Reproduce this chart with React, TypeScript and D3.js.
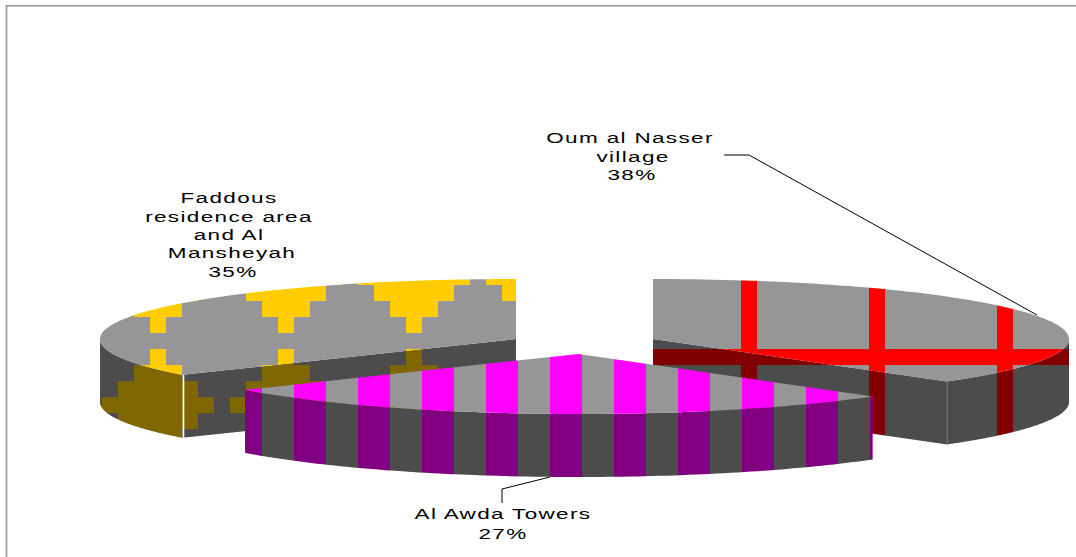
import React from "react";
import * as d3 from "d3";

// Share of each housing area, in drawing order around the pie
const areas = ["Oum al Nasser village", "Al Awda Towers", "Faddous residence area and Al Mansheyah"];
const shares = [37.5, 27.3, 35.2];
const labelLines = [
  ["Oum al Nasser", "village"],
  ["Al Awda Towers"],
  ["Faddous", "residence area", "and Al", "Mansheyah"],
];

const W = 1076;
const H = 557;
const RX = 416;
const RY = 60;
const DEPTH = 63;
const GREY_TOP = "#969696";
const GREY_SIDE = "#4c4c4c";
const FONT = "'Liberation Sans', Arial, sans-serif";

type Point = [number, number];
type Centre = { x: number; y: number };

// Where each exploded wedge sits on the page
const centres: Centre[] = [
  { x: 653, y: 339 },
  { x: 578.5, y: 354 },
  { x: 516, y: 339 },
];

// Half-widths of the stepped diamond, one entry per 16px row of the tile
const diamondRows = [0, 16, 48, 80, 112, 80, 48, 16];

const slices = d3
  .pie<number>()
  .sort(null)
  .startAngle(0)
  .endAngle(2 * Math.PI)
  .value((d) => d)(shares);

const toPath = d3.line<Point>();
const percent = d3.format(".0%");

// Ellipse point for a clockwise angle measured from twelve o'clock
function onRim(c: Centre, angle: number, drop = 0): Point {
  return [c.x + RX * Math.sin(angle), c.y - RY * Math.cos(angle) + drop];
}

function rim(c: Centre, a0: number, a1: number, drop = 0): Point[] {
  const step = d3.scaleLinear().domain([0, 96]).range([a0, a1]);
  return d3.range(97).map((i) => onRim(c, step(i), drop));
}

function topFace(c: Centre, a0: number, a1: number): string {
  return toPath([[c.x, c.y], ...rim(c, a0, a1)]) + "Z";
}

function rimBand(c: Centre, a0: number, a1: number): string {
  return toPath([...rim(c, a0, a1), ...rim(c, a1, a0, DEPTH)]) + "Z";
}

function radialFace(c: Centre, a: number): string {
  const p = onRim(c, a);
  const q: Point = [c.x, c.y];
  return toPath([q, p, [p[0], p[1] + DEPTH], [q[0], q[1] + DEPTH]]) + "Z";
}

function Diamonds({ id, ink, paper }: { id: string; ink: string; paper: string }) {
  return (
    <pattern id={id} patternUnits="userSpaceOnUse" x={94} y={333} width={128} height={128}>
      <rect width={128} height={128} fill={paper} />
      {diamondRows.map((w, i) =>
        w > 0 ? <rect key={i} x={64 - w / 2} y={i * 16} width={w} height={16} fill={ink} shapeRendering="crispEdges" /> : null
      )}
    </pattern>
  );
}

function Plaid({ id, ink, paper }: { id: string; ink: string; paper: string }) {
  return (
    <pattern id={id} patternUnits="userSpaceOnUse" x={741} y={349} width={128} height={128}>
      <rect width={128} height={128} fill={paper} />
      <rect width={16} height={128} fill={ink} shapeRendering="crispEdges" />
      <rect width={128} height={16} fill={ink} shapeRendering="crispEdges" />
    </pattern>
  );
}

function Stripes({ id, ink, paper }: { id: string; ink: string; paper: string }) {
  return (
    <pattern id={id} patternUnits="userSpaceOnUse" x={550} y={0} width={64} height={64}>
      <rect width={64} height={64} fill={paper} />
      <rect width={32} height={64} fill={ink} shapeRendering="crispEdges" />
    </pattern>
  );
}

function Label({ lines, xs, baselines }: { lines: string[]; xs: number[]; baselines: number[] }) {
  return (
    <g fontFamily={FONT} fontSize={15} fill="#000" textAnchor="middle">
      {lines.map((t, i) => (
        <text key={i} transform={`translate(${xs[i]},${baselines[i]}) scale(1.5,1)`} letterSpacing={0.9}>
          {t}
        </text>
      ))}
    </g>
  );
}

export default function App() {
  const [red, awda, gold] = slices;
  const rightAngle = Math.PI / 2;
  const leftAngle = (3 * Math.PI) / 2;
  const goldEdge = onRim(centres[2], gold.startAngle);
  const redEdge = onRim(centres[0], red.endAngle);

  return (
    <svg
      width={W}
      height={H}
      viewBox={`0 0 ${W} ${H}`}
      style={{ position: "absolute", left: 0, top: 0, display: "block", background: "#fff" }}
    >
      <defs>
        <Diamonds id="goldTop" ink="#ffcc00" paper={GREY_TOP} />
        <Diamonds id="goldSide" ink="#806600" paper={GREY_SIDE} />
        <Plaid id="redTop" ink="#ff0000" paper={GREY_TOP} />
        <Plaid id="redSide" ink="#800000" paper={GREY_SIDE} />
        <Stripes id="awdaTop" ink="#ff00ff" paper={GREY_TOP} />
        <Stripes id="awdaSide" ink="#800080" paper={GREY_SIDE} />
      </defs>

      <path d={`M6.5,${H}V5.7H${W}`} fill="none" stroke="#969696" strokeWidth={1.6} />

      {/* Faddous wedge */}
      <g>
        <path d={radialFace(centres[2], gold.startAngle)} fill="url(#goldSide)" />
        <path d={rimBand(centres[2], gold.startAngle, leftAngle)} fill="url(#goldSide)" />
        <path d={topFace(centres[2], gold.startAngle, gold.endAngle)} fill="url(#goldTop)" />
        <line x1={goldEdge[0] + 1} y1={goldEdge[1]} x2={goldEdge[0] + 1} y2={goldEdge[1] + DEPTH} stroke="#fff" strokeWidth={1.5} />
      </g>

      {/* Oum al Nasser wedge */}
      <g>
        <path d={rimBand(centres[0], rightAngle, red.endAngle)} fill="url(#redSide)" />
        <path d={radialFace(centres[0], red.endAngle)} fill="url(#redSide)" />
        <path d={topFace(centres[0], red.startAngle, red.endAngle)} fill="url(#redTop)" />
        <line x1={redEdge[0]} y1={redEdge[1]} x2={redEdge[0]} y2={redEdge[1] + DEPTH} stroke="#777" strokeWidth={1} />
      </g>

      {/* Al Awda wedge, exploded towards the viewer */}
      <g>
        <path d={rimBand(centres[1], awda.startAngle, awda.endAngle)} fill="url(#awdaSide)" />
        <path d={topFace(centres[1], awda.startAngle, awda.endAngle)} fill="url(#awdaTop)" />
      </g>

      {/* Leader lines */}
      <polyline points="724,155 749,155 1037,315" fill="none" stroke="#000" strokeWidth={1} />
      <polyline points="502,503 502,489 550,477" fill="none" stroke="#000" strokeWidth={1} />

      <Label
        lines={[...labelLines[0], percent(shares[0] / 100)]}
        xs={[630, 633, 632]}
        baselines={[143, 162, 180]}
      />
      <Label
        lines={[...labelLines[2], percent(shares[2] / 100)]}
        xs={[229, 229, 229, 232, 233]}
        baselines={[203, 222, 240, 258, 277]}
      />
      <Label
        lines={[...labelLines[1], percent(shares[1] / 100)]}
        xs={[503, 503]}
        baselines={[519, 539]}
      />
      <title>{areas.join(", ")}</title>
    </svg>
  );
}
